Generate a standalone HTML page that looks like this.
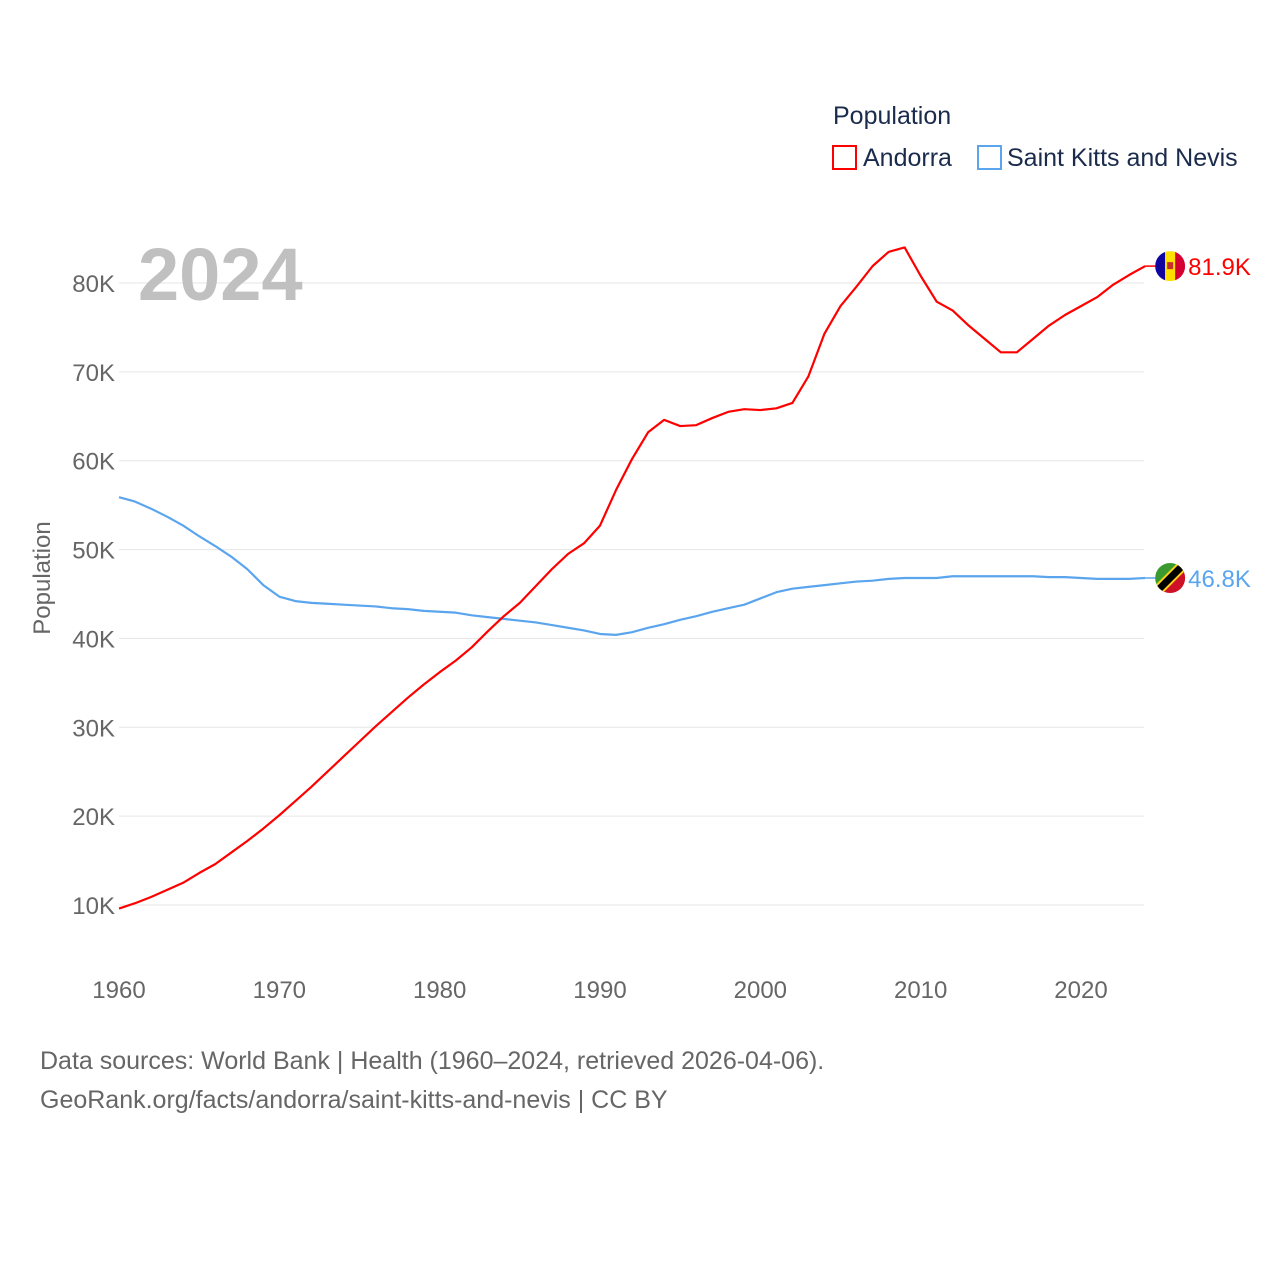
<!DOCTYPE html>
<html><head><meta charset="utf-8"><style>
body{margin:0;background:#fff;font-family:"Liberation Sans",sans-serif}
svg text{font-family:"Liberation Sans",sans-serif}
</style></head><body>
<svg id="chart" width="1280" height="1280" viewBox="0 0 1280 1280">
<text x="833" y="124" font-size="25" fill="#1a2b4c">Population</text>
<g><rect x="833" y="146" width="23" height="23" fill="none" stroke="#f00" stroke-width="2"/><text x="863" y="166" font-size="25" fill="#1a2b4c">Andorra</text></g>
<g><rect x="978" y="146" width="23" height="23" fill="none" stroke="#5aa5ee" stroke-width="2"/><text x="1007" y="166" font-size="25" fill="#1a2b4c">Saint Kitts and Nevis</text></g>
<g id="grid"></g>
<text x="138" y="300" font-size="74" font-weight="bold" fill="#c0c0c0">2024</text>
<text transform="translate(50,578) rotate(-90)" text-anchor="middle" font-size="24" fill="#666">Population</text>
<g id="series"></g>
<text x="40" y="1069" font-size="25" fill="#666">Data sources: World Bank | Health (1960–2024, retrieved 2026-04-06).</text>
<text x="40" y="1108" font-size="25" fill="#666">GeoRank.org/facts/andorra/saint-kitts-and-nevis | CC BY</text>
</svg>
<script>
const years=[];for(let y=1960;y<=2024;y++)years.push(y);
const andorra=[9.6,10.2,10.9,11.7,12.5,13.6,14.6,15.9,17.2,18.6,20.1,21.7,23.3,25.0,26.7,28.4,30.1,31.7,33.3,34.8,36.2,37.5,39.0,40.8,42.5,44.0,45.9,47.8,49.5,50.7,52.7,56.7,60.2,63.2,64.6,63.9,64.0,64.8,65.5,65.8,65.7,65.9,66.5,69.5,74.3,77.4,79.6,81.9,83.5,84.0,80.8,77.9,76.9,75.2,73.7,72.2,72.2,73.7,75.2,76.4,77.4,78.4,79.8,80.9,81.9];
const skn=[55.9,55.4,54.6,53.7,52.7,51.5,50.4,49.2,47.8,46.0,44.7,44.2,44.0,43.9,43.8,43.7,43.6,43.4,43.3,43.1,43.0,42.9,42.6,42.4,42.2,42.0,41.8,41.5,41.2,40.9,40.5,40.4,40.7,41.2,41.6,42.1,42.5,43.0,43.4,43.8,44.5,45.2,45.6,45.8,46.0,46.2,46.4,46.5,46.7,46.8,46.8,46.8,47.0,47.0,47.0,47.0,47.0,47.0,46.9,46.9,46.8,46.7,46.7,46.7,46.8];
const yTicks=[10,20,30,40,50,60,70,80];
const xTicks=[1960,1970,1980,1990,2000,2010,2020];
const X=y=>119+(y-1960)*(1081-119)/60;
const Y=v=>905-(v-10)*(905-283)/70;
const NS="http://www.w3.org/2000/svg";
const g=document.getElementById('grid'),s=document.getElementById('series');
function mk(tag,attrs,parent,txt){const e=document.createElementNS(NS,tag);for(const k in attrs)e.setAttribute(k,attrs[k]);if(txt!==undefined)e.textContent=txt;parent.appendChild(e);return e;}
yTicks.forEach(t=>{
 const l=mk('line',{x1:119,x2:1144,y1:Y(t),y2:Y(t),stroke:'#e6e6e6','stroke-width':1},g);
 
 
 const tx=mk('text',{x:115,y:Y(t)+9,'text-anchor':'end','font-size':24,fill:'#666'},g,t+'K');
 
 
});
xTicks.forEach(t=>{
 const tx=mk('text',{x:X(t),y:998,'text-anchor':'middle','font-size':24,fill:'#666'},g,String(t));
 
 
});
function line(data,color,name){
 const p=mk('polyline',{points:data.map((v,i)=>X(years[i])+','+Y(v)).join(' '),fill:'none',stroke:color,'stroke-width':2.2,'stroke-linejoin':'round'},s);
 
 
}
line(skn,'#5aa5ee','line-saint-kitts');
line(andorra,'#f00','line-andorra');
const la=andorra[andorra.length-1],ls=skn[skn.length-1];
const ax=X(2024),ay=Y(la),sy=Y(ls);
mk('line',{x1:ax,x2:ax+12,y1:ay,y2:ay,stroke:'#f00','stroke-width':1.5},s);
mk('line',{x1:ax,x2:ax+12,y1:sy,y2:sy,stroke:'#5aa5ee','stroke-width':1.5},s);
const defs=mk('defs',{},s);
const c1=mk('clipPath',{id:'fa'},defs);mk('circle',{cx:ax+25,cy:ay,r:15},c1);
const c2=mk('clipPath',{id:'fs'},defs);mk('circle',{cx:ax+25,cy:sy,r:15},c2);
const fa=mk('g',{'clip-path':'url(#fa)'},s);


mk('rect',{x:ax+10,y:ay-15,width:10,height:30,fill:'#10069f'},fa);
mk('rect',{x:ax+20,y:ay-15,width:10,height:30,fill:'#fedf00'},fa);
mk('rect',{x:ax+30,y:ay-15,width:10,height:30,fill:'#d50032'},fa);
mk('rect',{x:ax+22,y:ay-4,width:6,height:7,fill:'#c7302a'},fa);
const fs=mk('g',{'clip-path':'url(#fs)'},s);


const cx=ax+25;
mk('polygon',{points:`${cx-15},${sy-15} ${cx+15},${sy-15} ${cx-15},${sy+15}`,fill:'#3a9a2f'},fs);
mk('polygon',{points:`${cx+15},${sy-15} ${cx+15},${sy+15} ${cx-15},${sy+15}`,fill:'#ce1126'},fs);
mk('line',{x1:cx-16,y1:sy+16,x2:cx+16,y2:sy-16,stroke:'#fcd116','stroke-width':11},fs);
mk('line',{x1:cx-16,y1:sy+16,x2:cx+16,y2:sy-16,stroke:'#000','stroke-width':7},fs);
const t1=mk('text',{x:ax+43,y:ay+9,'font-size':24,fill:'#f00'},s,la.toFixed(1)+'K');


const t2=mk('text',{x:ax+43,y:sy+9,'font-size':24,fill:'#5aa5ee'},s,ls.toFixed(1)+'K');


</script>
</body></html>
